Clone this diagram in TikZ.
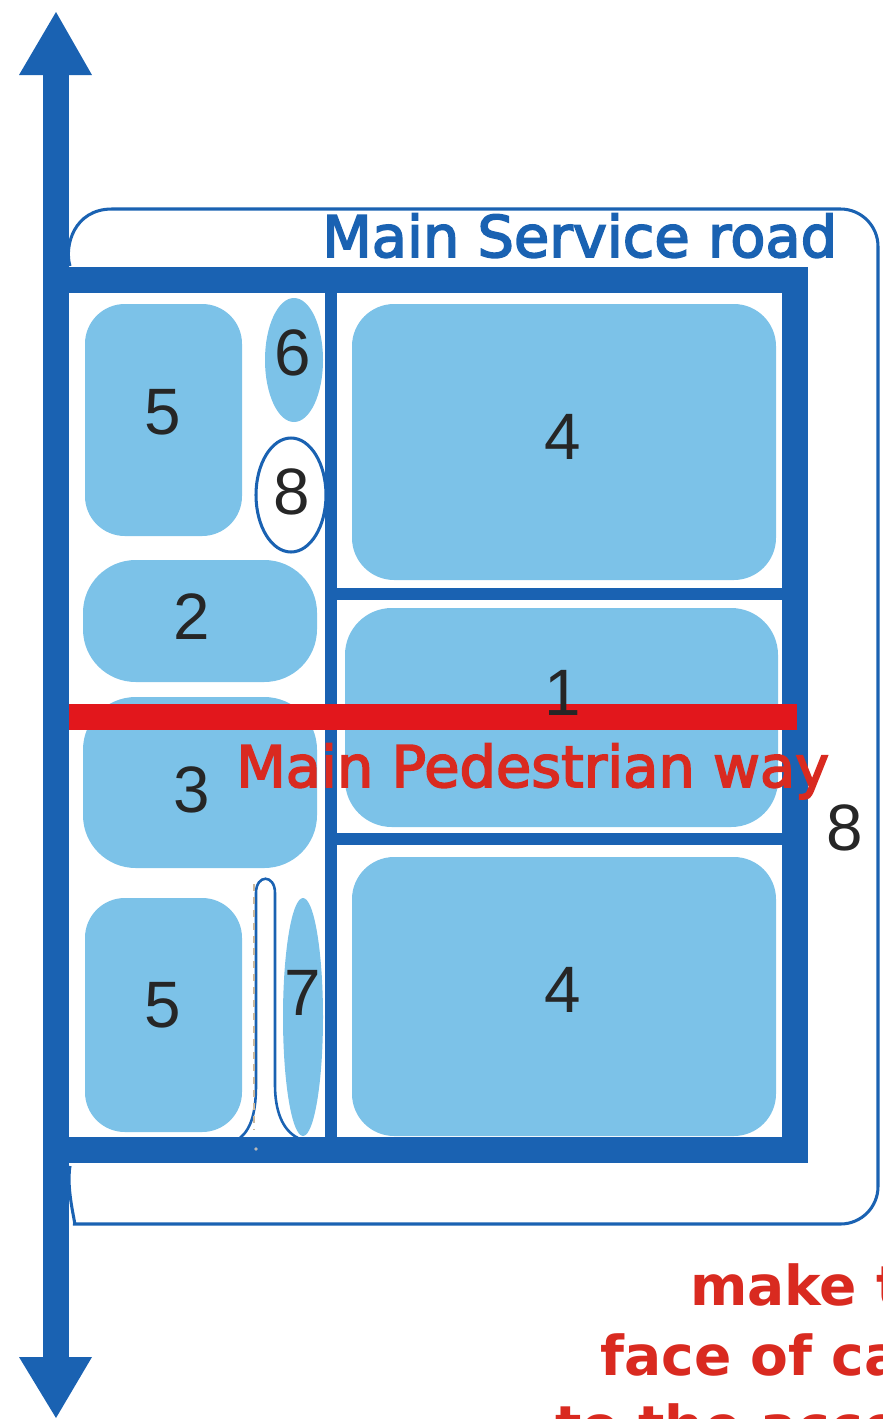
\documentclass[tikz,border=0pt]{standalone}
\usepackage{fontspec}
\setmainfont{DejaVu Sans}
\newfontfamily\numfont{Liberation Sans}
\newfontfamily\roadfont[FakeBold=3]{DejaVu Sans}
\definecolor{roadblue}{HTML}{1A62B2}
\definecolor{plotblue}{HTML}{7CC2E8}
\definecolor{walkred}{HTML}{E2171C}
\definecolor{notered}{HTML}{D92A20}
\definecolor{dashtan}{HTML}{C9B79C}

\begin{document}
\begin{tikzpicture}[x=0.03cm,y=-0.03cm,
    plot/.style={fill=plotblue,draw=none},
    num/.style={font=\numfont\fontsize{56}{60}\selectfont,text=black!85,inner sep=0pt},
    bigtext/.style={font=\roadfont\fontsize{49}{58}\selectfont,inner sep=0pt,anchor=base west}]
  \useasboundingbox (0,0) rectangle (882,1419);
  \clip (0,0) rectangle (882,1419);
  \draw[roadblue,line width=2.6pt] (70,266) .. controls (64,246) and (74,209) .. (112,209)
    [rounded corners=32pt] -- (878,209) -- (878,1224) -- (112,1224)
    [sharp corners] .. controls (76,1224) and (66,1190) .. (70,1166);
  \fill[plot,rounded corners=34pt] (85,304) rectangle (242,536);
  \fill[plot] (294,360) ellipse [x radius=29, y radius=62];
  \draw[roadblue,line width=2.6pt,fill=white] (291,495) ellipse [x radius=35, y radius=57];
  \fill[plot,rounded corners=45pt] (83,560) rectangle (317,682);
  \fill[plot,rounded corners=45pt] (83,697) rectangle (317,868);
  \fill[plot,rounded corners=34pt] (85,898) rectangle (242,1132);
  \fill[plot] (303,1017) ellipse [x radius=20, y radius=119];
  \fill[plot,rounded corners=36pt] (352,304) rectangle (776,580);
  \fill[plot,rounded corners=40pt] (345,608) rectangle (778,827);
  \fill[plot,rounded corners=36pt] (352,857) rectangle (776,1136);
  \draw[roadblue,line width=2.2pt] (240,1138) .. controls (252,1128) and (256,1110) .. (256,1085)
    -- (256,893) .. controls (256,874) and (275,874) .. (275,893) -- (275,1085)
    .. controls (275,1110) and (282,1130) .. (298,1138);
  \draw[dashtan,line width=1.8pt,dash pattern=on 6pt off 5pt] (254,884) -- (254,1130);
  \draw[roadblue,line width=9.5pt] (331,290) -- (331,1140);
  \draw[roadblue,line width=10pt] (331,594) -- (790,594);
  \draw[roadblue,line width=10pt] (331,839) -- (790,839);
  \draw[roadblue,line width=22pt] (56,280) rectangle (795,1150);
  \draw[roadblue,line width=23pt] (56,70) -- (56,1362);
  \fill[roadblue] (56,12) -- (92,75) -- (19,75) -- cycle;
  \fill[roadblue] (56,1418) -- (92,1357) -- (19,1357) -- cycle;
  \fill[gray!55] (256,1149) circle (1.6pt);
  \draw[walkred,line width=23pt] (69,717) -- (797,717);
  \node[num] (p5a) at (163,412) {5};
  \node[num] (p6) at (293,353) {6};
  \node[num] (p8a) at (292,492) {8};
  \node[num] (p2) at (192,617) {2};
  \node[num] (p3) at (192,790) {3};
  \node[num] (p5b) at (163,1005) {5};
  \node[num] (p7) at (303,993) {7};
  \node[num] (p4a) at (563,437) {4};
  \node[num] (p1) at (563,693) {1};
  \node[num] (p4b) at (563,990) {4};
  \node[num] (p8b) at (845,828) {8};
  \node[bigtext,text=roadblue] (service) at (322,257) {Main Service road};
  \node[bigtext,text=notered] (walk) at (236,787) {Main Pedestrian way};
  \node[bigtext,font=\bfseries\fontsize{47}{56}\selectfont,text=notered] (note1) at (690,1305) {make t};
  \node[bigtext,font=\bfseries\fontsize{47}{56}\selectfont,text=notered] (note2) at (600,1375) {face of ca};
  \node[bigtext,font=\bfseries\fontsize{47}{56}\selectfont,text=notered] (note3) at (555,1445) {to the acces};
\end{tikzpicture}
\end{document}
